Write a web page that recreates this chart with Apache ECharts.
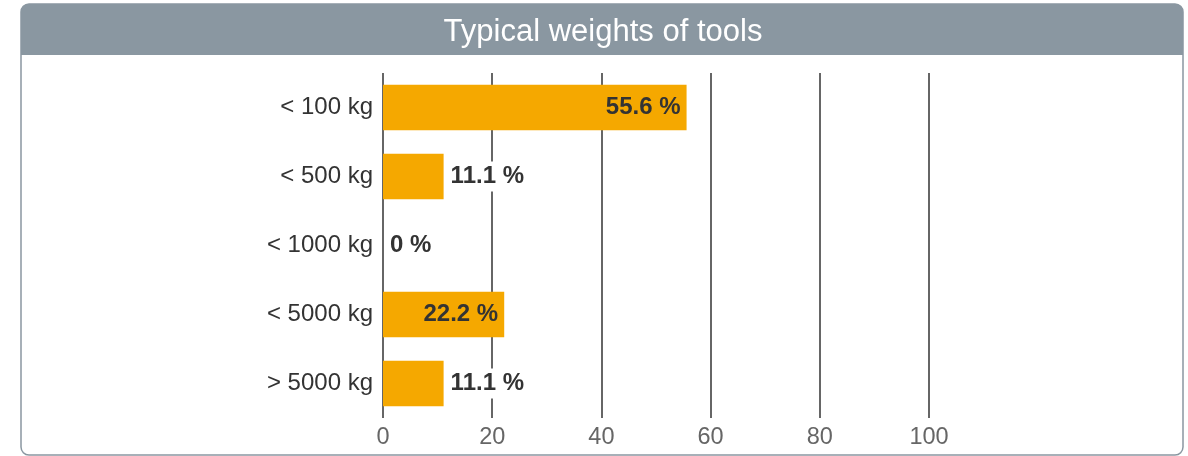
<!DOCTYPE html>
<html>
<head>
<meta charset="utf-8">
<script src="https://cdn.jsdelivr.net/npm/echarts@6/dist/echarts.min.js"></script>
<style>
  html, body { margin: 0; padding: 0; background: #fff; }
  #chart { width: 1188px; height: 456px; }
</style>
</head>
<body>
<div id="chart"></div>
<script>
// Weight classes and share of tools in each class (%)
const categories = ['< 100 kg', '< 500 kg', '< 1000 kg', '< 5000 kg', '> 5000 kg'];
const shares = [55.6, 11.1, 0, 22.2, 11.1];
const xTicks = [0, 20, 40, 60, 80, 100];
const titleText = 'Typical weights of tools';

const FONT = '"Liberation Sans", Arial, sans-serif';
const FRAME = '#8a97a1';
const BAR = '#f5a800';

const chart = echarts.init(document.getElementById('chart'), null, { renderer: 'canvas' });

// Wide bars carry their label inside, narrow ones place it beside the bar
const barData = shares.map(v => ({
  value: v,
  label: v >= 15
    ? { position: 'insideRight', distance: 4, backgroundColor: 'transparent' }
    : { position: 'right', distance: 5, backgroundColor: '#fff' }
}));

chart.setOption({
  animation: false,
  textStyle: { fontFamily: FONT },
  graphic: [
    {
      type: 'rect', z: 0,
      shape: { x: 21, y: 4, width: 1162, height: 451, r: 8 },
      style: { fill: '#fff', stroke: FRAME, lineWidth: 1.5 }
    },
    {
      type: 'rect', z: 1,
      shape: { x: 21, y: 4, width: 1162, height: 51, r: [8, 8, 0, 0] },
      style: { fill: FRAME }
    },
    {
      type: 'text', z: 2,
      x: 603, y: 32,
      style: {
        text: titleText, fill: '#fff', font: '31px ' + FONT,
        align: 'center', verticalAlign: 'middle'
      }
    }
  ],
  grid: { left: 383, right: 259, top: 73, bottom: 38, containLabel: false },
  xAxis: {
    type: 'value',
    min: 0, max: 100, interval: 20,
    axisLine: { show: false },
    axisTick: { show: false },
    axisLabel: {
      color: '#666', fontSize: 23.5, margin: 8, fontFamily: FONT,
      customValues: xTicks
    },
    splitLine: { show: true, lineStyle: { color: '#666', width: 2 } }
  },
  yAxis: {
    type: 'category',
    inverse: true,
    data: categories,
    axisLine: { show: false },
    axisTick: { show: false },
    axisLabel: {
      color: '#333', fontSize: 24, margin: 10, fontFamily: FONT,
      padding: [4, 0, 0, 0]
    }
  },
  series: [{
    type: 'bar',
    data: barData,
    barWidth: '66%',
    itemStyle: { color: BAR },
    z: 3,
    label: {
      show: true,
      formatter: p => p.value + ' %',
      color: '#333',
      fontSize: 24,
      fontWeight: 'bold',
      fontFamily: FONT,
      padding: [5, 2, 1, 2]
    }
  }]
});
</script>
</body>
</html>
